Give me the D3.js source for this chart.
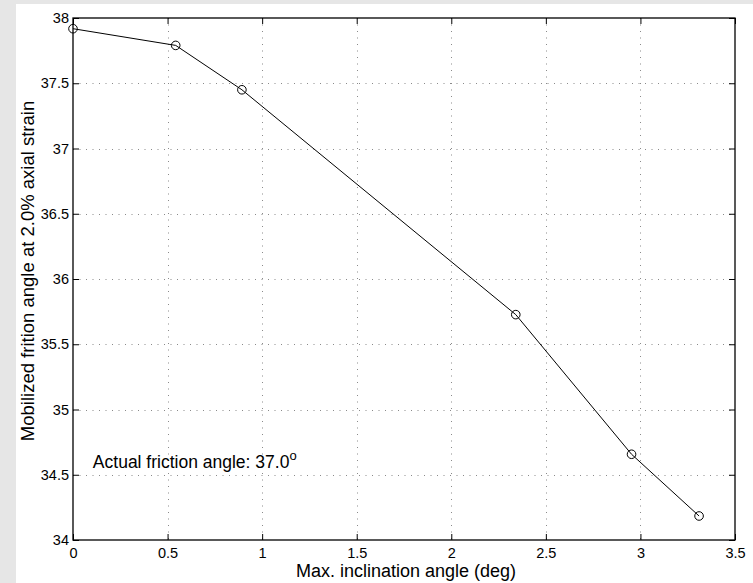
<!DOCTYPE html>
<html>
<head>
<meta charset="utf-8">
<script src="https://cdn.jsdelivr.net/npm/d3@7"></script>
<style>
  html, body { margin: 0; padding: 0; background: #e6e6e6; }
  svg { display: block; }
  text { font-family: "Liberation Sans", Arial, Helvetica, sans-serif; fill: #000; }
</style>
</head>
<body>
<svg id="chart" width="753" height="583"></svg>
<script>
// ---- data ----
const inclination = [0, 0.543, 0.893, 2.341, 2.953, 3.31];
const frictionAngle = [37.918, 37.79, 37.45, 35.727, 34.657, 34.184];
const xTicks = [0, 0.5, 1, 1.5, 2, 2.5, 3, 3.5];
const yTicks = [34, 34.5, 35, 35.5, 36, 36.5, 37, 37.5, 38];
const xLabel = "Max. inclination angle (deg)";
const yLabel = "Mobilized frition angle at 2.0% axial strain";
const noteText = "Actual friction angle: 37.0";
const noteSup = "o";
const noteAt = [0.105, 34.55];

const svg = d3.select("#chart");
svg.append("rect").attr("x", 16).attr("y", 4).attr("width", 737).attr("height", 579).attr("fill", "#ffffff");

const L = 73, R = 735, T = 18, B = 540;
const x = d3.scaleLinear().domain([0, 3.5]).range([L, R]);
const y = d3.scaleLinear().domain([34, 38]).range([B, T]);

const g = svg.append("g");

// grid
const grid = g.append("g").attr("stroke", "#8a8a8a").attr("stroke-width", 1).attr("stroke-dasharray", "1,5.5");
grid.selectAll("line.vx").data(xTicks.slice(1, -1)).join("line")
  .attr("x1", d => Math.round(x(d)) + 0.5).attr("x2", d => Math.round(x(d)) + 0.5)
  .attr("y1", T).attr("y2", B);
grid.selectAll("line.hy").data(yTicks.slice(1, -1)).join("line")
  .attr("y1", d => Math.round(y(d)) + 0.5).attr("y2", d => Math.round(y(d)) + 0.5)
  .attr("x1", L).attr("x2", R);

// axes with inward ticks
const tickLen = 6;
const axB = d3.axisBottom(x).tickValues(xTicks).tickSize(-tickLen).tickPadding(8).tickFormat(d3.format("~g"));
const axT = d3.axisTop(x).tickValues(xTicks).tickSize(-tickLen).tickFormat("");
const axL = d3.axisLeft(y).tickValues(yTicks).tickSize(-tickLen).tickPadding(4).tickFormat(d3.format("~g"));
const axR = d3.axisRight(y).tickValues(yTicks).tickSize(-tickLen).tickFormat("");

function style(sel) {
  sel.attr("font-size", null).attr("font-family", null);
  sel.selectAll("line").attr("stroke", "#000");
  sel.selectAll("text")
    .style("font-size", "14.5px")
    .style("font-family", '"Liberation Sans", Arial, sans-serif')
    .attr("fill", "#000");
}
g.append("g").attr("transform", `translate(0,${B})`).call(axB).call(style);
g.append("g").attr("transform", `translate(0,${T})`).call(axT).call(style);
g.append("g").attr("transform", `translate(${L},0)`).call(axL).call(style);
g.append("g").attr("transform", `translate(${R},0)`).call(axR).call(style);
g.selectAll(".domain").remove();
g.append("rect").attr("x", L).attr("y", T).attr("width", R - L).attr("height", B - T)
  .attr("fill", "none").attr("stroke", "#000").attr("stroke-width", 1.3);

// line + markers
const pts = inclination.map((v, i) => [v, frictionAngle[i]]);
g.append("path").datum(pts)
  .attr("fill", "none").attr("stroke", "#000").attr("stroke-width", 1)
  .attr("d", d3.line().x(d => x(d[0])).y(d => y(d[1])));
g.selectAll("circle.pt").data(pts).join("circle")
  .attr("cx", d => x(d[0])).attr("cy", d => y(d[1])).attr("r", 4.3)
  .attr("fill", "none").attr("stroke", "#000").attr("stroke-width", 1);

// annotation
const note = g.append("text").attr("x", x(noteAt[0])).attr("y", y(noteAt[1])).style("font-size", "17.5px");
note.append("tspan").text(noteText);
note.append("tspan").attr("dy", "-8").style("font-size", "13px").text(noteSup);

// axis labels
g.append("text").attr("x", 406).attr("y", 577).attr("text-anchor", "middle").style("font-size", "18px").text(xLabel);
g.append("text").attr("transform", `translate(34,271) rotate(-90)`).attr("text-anchor", "middle").style("font-size", "18.5px").text(yLabel);
</script>
</body>
</html>
